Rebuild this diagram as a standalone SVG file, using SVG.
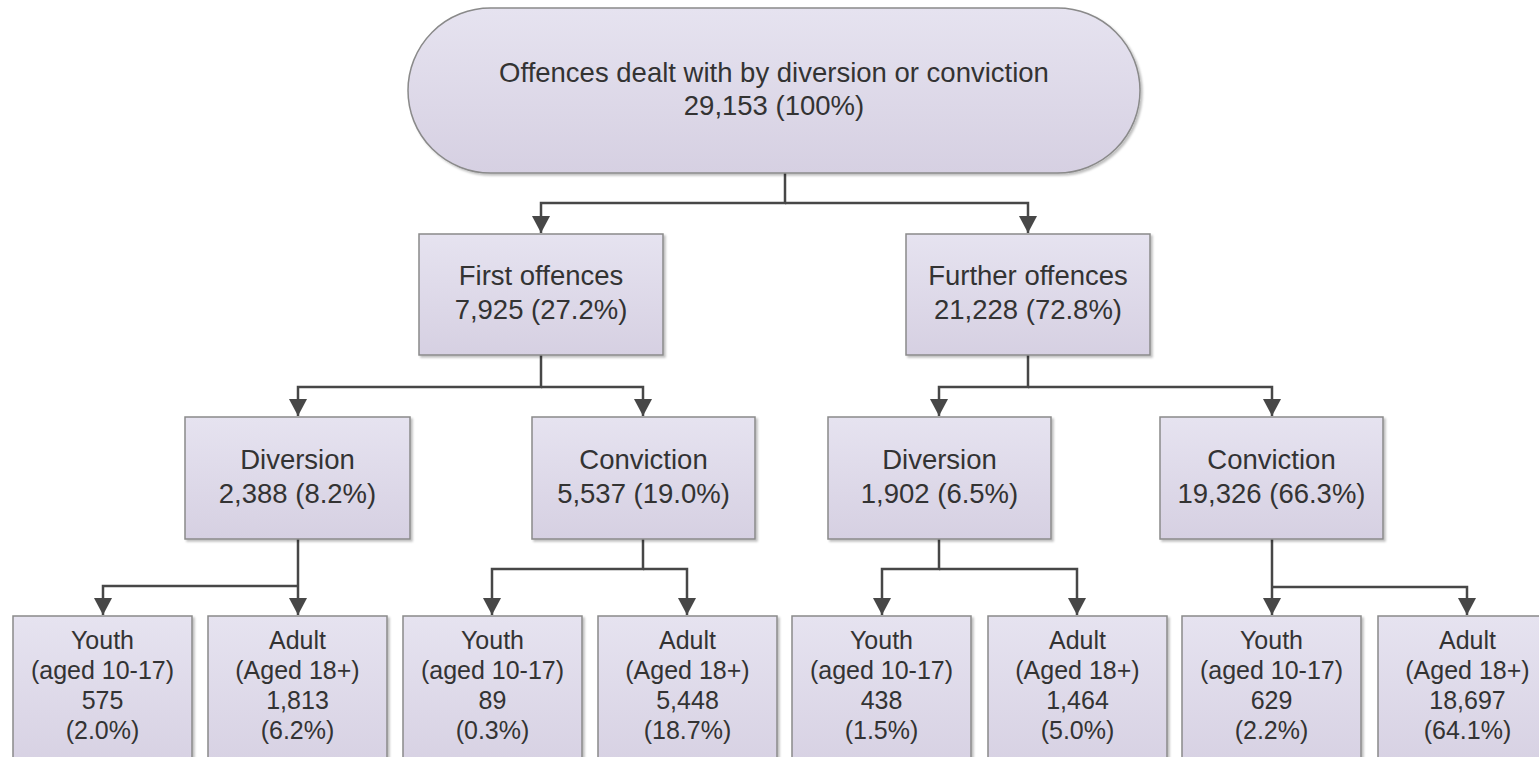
<svg xmlns="http://www.w3.org/2000/svg" width="1539" height="757" viewBox="0 0 1539 757">
<style>
.box{fill:url(#g);stroke:#8a8a8a;stroke-width:1.5;filter:url(#sh)}
.t{font-family:"Liberation Sans",Arial,sans-serif;font-size:27.5px;fill:#333;text-anchor:middle}
.s{font-family:"Liberation Sans",Arial,sans-serif;font-size:25px;fill:#333;text-anchor:middle}
.c{fill:none;stroke:#474747;stroke-width:2.5;marker-end:url(#ah)}
</style>
<defs>
<linearGradient id="g" x1="0" y1="0" x2="0" y2="1">
<stop offset="0" stop-color="#e6e3f0"/>
<stop offset="1" stop-color="#d6d0e2"/>
</linearGradient>
<filter id="sh" x="-5%" y="-5%" width="115%" height="115%">
<feDropShadow dx="2" dy="2" stdDeviation="1.2" flood-color="#000" flood-opacity="0.25"/>
</filter>
<marker id="ah" markerUnits="userSpaceOnUse" markerWidth="20" markerHeight="20" refX="17" refY="9" orient="auto">
<path d="M0,0 L17,9 L0,18 z" fill="#474747"/>
</marker>
</defs>
<rect width="1539" height="757" fill="#fff"/>
<g id="connectors">
<path class="c" d="M785 173 V203 H541 V233"/>
<path class="c" d="M785 203 H1028 V233"/>
<path class="c" d="M541 355 V387 H298 V416"/>
<path class="c" d="M541 387 H643 V416"/>
<path class="c" d="M1028 355 V387 H939 V416"/>
<path class="c" d="M1028 387 H1272 V416"/>
<path class="c" d="M298 539 V615"/>
<path class="c" d="M298 586 H103 V615"/>
<path class="c" d="M643 539 V569 H492 V615"/>
<path class="c" d="M643 569 H687 V615"/>
<path class="c" d="M939 539 V569 H882 V615"/>
<path class="c" d="M939 569 H1077 V615"/>
<path class="c" d="M1272 539 V615"/>
<path class="c" d="M1272 587 H1467 V615"/>
</g>
<g id="root">
<rect class="box" x="408" y="8" width="732" height="165" rx="82.5"/>
<text class="t" x="774" y="82">Offences dealt with by diversion or conviction</text>
<text class="t" x="774" y="115">29,153 (100%)</text>
</g>
<g id="first">
<rect class="box" x="419" y="234" width="244" height="121"/>
<text class="t" x="541" y="285">First offences</text>
<text class="t" x="541" y="319">7,925 (27.2%)</text>
</g>
<g id="further">
<rect class="box" x="906" y="234" width="244" height="121"/>
<text class="t" x="1028" y="285">Further offences</text>
<text class="t" x="1028" y="319">21,228 (72.8%)</text>
</g>
<g id="div1">
<rect class="box" x="185" y="417" width="225" height="122"/>
<text class="t" x="297.5" y="469">Diversion</text>
<text class="t" x="297.5" y="503">2,388 (8.2%)</text>
</g>
<g id="conv1">
<rect class="box" x="532" y="417" width="223" height="122"/>
<text class="t" x="643.5" y="469">Conviction</text>
<text class="t" x="643.5" y="503">5,537 (19.0%)</text>
</g>
<g id="div2">
<rect class="box" x="828" y="417" width="223" height="122"/>
<text class="t" x="939.5" y="469">Diversion</text>
<text class="t" x="939.5" y="503">1,902 (6.5%)</text>
</g>
<g id="conv2">
<rect class="box" x="1160" y="417" width="223" height="122"/>
<text class="t" x="1271.5" y="469">Conviction</text>
<text class="t" x="1271.5" y="503">19,326 (66.3%)</text>
</g>
<g id="youth1">
<rect class="box" x="13" y="616" width="179" height="160"/>
<text class="s" x="102.5" y="649">Youth</text>
<text class="s" x="102.5" y="679">(aged 10-17)</text>
<text class="s" x="102.5" y="709">575</text>
<text class="s" x="102.5" y="739">(2.0%)</text>
</g>
<g id="adult1">
<rect class="box" x="208" y="616" width="179" height="160"/>
<text class="s" x="297.5" y="649">Adult</text>
<text class="s" x="297.5" y="679">(Aged 18+)</text>
<text class="s" x="297.5" y="709">1,813</text>
<text class="s" x="297.5" y="739">(6.2%)</text>
</g>
<g id="youth2">
<rect class="box" x="403" y="616" width="179" height="160"/>
<text class="s" x="492.5" y="649">Youth</text>
<text class="s" x="492.5" y="679">(aged 10-17)</text>
<text class="s" x="492.5" y="709">89</text>
<text class="s" x="492.5" y="739">(0.3%)</text>
</g>
<g id="adult2">
<rect class="box" x="598" y="616" width="179" height="160"/>
<text class="s" x="687.5" y="649">Adult</text>
<text class="s" x="687.5" y="679">(Aged 18+)</text>
<text class="s" x="687.5" y="709">5,448</text>
<text class="s" x="687.5" y="739">(18.7%)</text>
</g>
<g id="youth3">
<rect class="box" x="792" y="616" width="179" height="160"/>
<text class="s" x="881.5" y="649">Youth</text>
<text class="s" x="881.5" y="679">(aged 10-17)</text>
<text class="s" x="881.5" y="709">438</text>
<text class="s" x="881.5" y="739">(1.5%)</text>
</g>
<g id="adult3">
<rect class="box" x="988" y="616" width="179" height="160"/>
<text class="s" x="1077.5" y="649">Adult</text>
<text class="s" x="1077.5" y="679">(Aged 18+)</text>
<text class="s" x="1077.5" y="709">1,464</text>
<text class="s" x="1077.5" y="739">(5.0%)</text>
</g>
<g id="youth4">
<rect class="box" x="1182" y="616" width="179" height="160"/>
<text class="s" x="1271.5" y="649">Youth</text>
<text class="s" x="1271.5" y="679">(aged 10-17)</text>
<text class="s" x="1271.5" y="709">629</text>
<text class="s" x="1271.5" y="739">(2.2%)</text>
</g>
<g id="adult4">
<rect class="box" x="1378" y="616" width="179" height="160"/>
<text class="s" x="1467.5" y="649">Adult</text>
<text class="s" x="1467.5" y="679">(Aged 18+)</text>
<text class="s" x="1467.5" y="709">18,697</text>
<text class="s" x="1467.5" y="739">(64.1%)</text>
</g>
</svg>
